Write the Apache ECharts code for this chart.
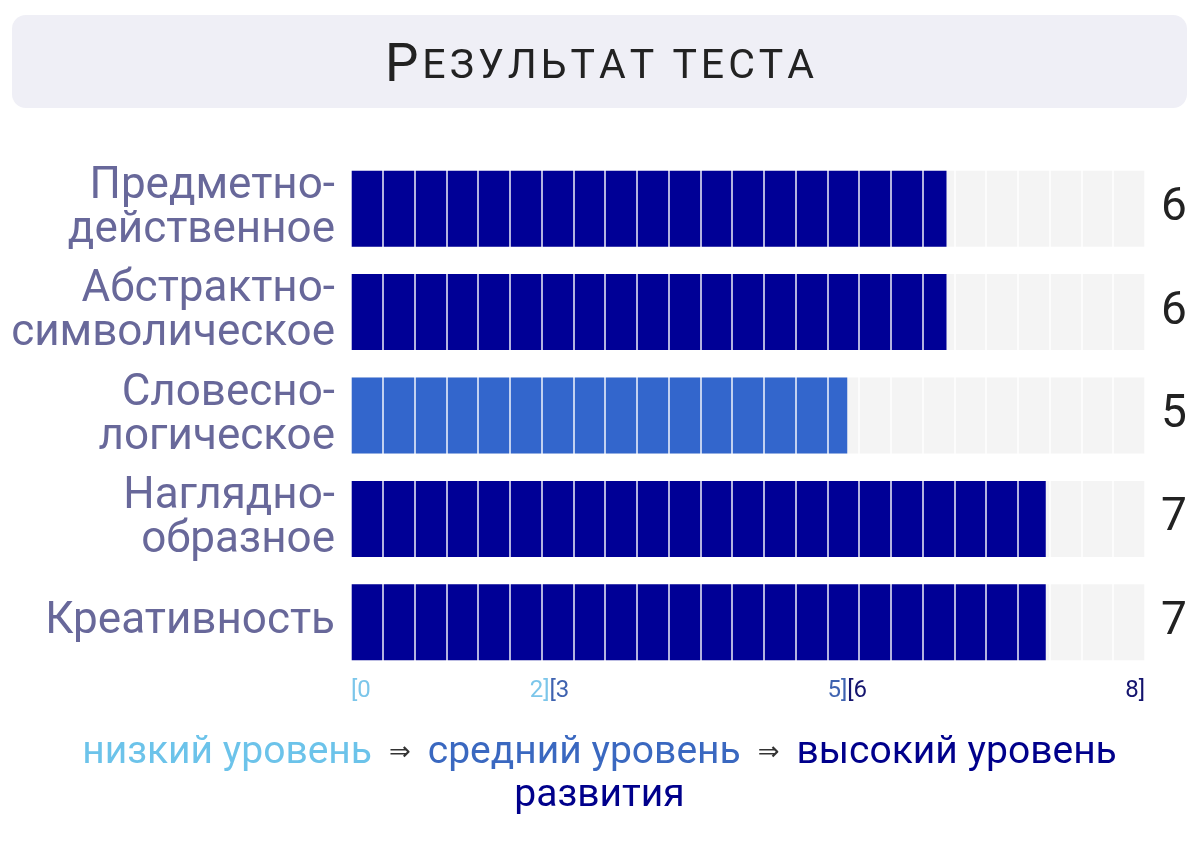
<!DOCTYPE html>
<html>
<head>
<meta charset="utf-8">
<script src="https://cdn.jsdelivr.net/npm/echarts@6/dist/echarts.min.js"></script>
<style>
html,body{margin:0;padding:0;background:#fff;}
#main{width:1199px;height:857px;}
</style>
</head>
<body>
<div id="main"></div>
<script>
var titleText = 'Результат теста';
var categories = ['Предметно-\nдейственное', 'Абстрактно-\nсимволическое', 'Словесно-\nлогическое', 'Наглядно-\nобразное', 'Креативность'];
var values = [6, 6, 5, 7, 7];
var scaleMax = 8;
var cellCount = 25;
var tickValues = [0, 2, 5, 8];
var tickLabels = ['{lo|[0}', '{lo|2]}{mid|[3}', '{mid|5]}{hi|[6}', '{hi|8]}'];
var levelBounds = [2, 5]; // [0..2] low, [3..5] mid, [6..8] high

var COL_LOW = '#6cc3ea', COL_MID = '#3366cc', COL_HI = '#000096';
function levelColor(v) {
  if (v <= levelBounds[0]) return COL_LOW;
  if (v <= levelBounds[1]) return COL_MID;
  return COL_HI;
}

// small-caps title with letter spacing, built as rich text tokens
var up = titleText.toUpperCase();
var titleRich = '{a|' + up.charAt(0) + '}';
for (var k = 1; k < up.length; k++) {
  var ch = up.charAt(k);
  titleRich += '{' + (k === up.length - 1 ? 'c' : 'b') + '|' + ch + '}';
}

var chart = echarts.init(document.getElementById('main'));
chart.setOption({
  backgroundColor: '#fff',
  animation: false,
  graphic: [
    {type: 'rect', left: 12, top: 15, shape: {width: 1175, height: 93, r: 14}, style: {fill: '#efeff6'}, z: 0},
    {type: 'text', left: 'center', top: 41, z: 1,
      style: {text: titleRich, rich: {
        a: {fontSize: 53, fontFamily: 'Roboto', fill: '#222', padding: [0, 4, 0, 0]},
        b: {fontSize: 41, fontFamily: 'Roboto', fill: '#222', padding: [0, 4, 0, 0]},
        c: {fontSize: 41, fontFamily: 'Roboto', fill: '#222'}
      }}},
    {type: 'text', left: 'center', top: 734, z: 1,
      style: {text: '{lo|низкий уровень}{sp| }{ar|⇒}{sp| }{mid|средний уровень}{sp| }{ar|⇒}{sp| }{hi|высокий уровень}', rich: {
        lo: {fontSize: 39, fontFamily: 'Roboto', fill: COL_LOW},
        mid: {fontSize: 39, fontFamily: 'Roboto', fill: '#3a68c0'},
        hi: {fontSize: 39, fontFamily: 'Roboto', fill: '#00008b'},
        sp: {fontSize: 39, fontFamily: 'Roboto', fill: '#fff', width: 17},
        ar: {fontSize: 26, fontFamily: 'DejaVu Sans', fill: '#333'}
      }}},
    {type: 'text', left: 'center', top: 777, z: 1,
      style: {text: 'развития', fontSize: 39, fontFamily: 'Roboto', fill: '#00008b'}}
  ],
  grid: {left: 351, right: 54, top: 157, bottom: 183, containLabel: false},
  xAxis: [
    {type: 'value', min: 0, max: scaleMax, position: 'bottom',
      axisLine: {show: false}, axisTick: {show: false}, splitLine: {show: false},
      axisLabel: {
        customValues: tickValues, margin: 5, alignMinLabel: 'left', alignMaxLabel: 'right',
        fontFamily: 'Roboto', fontSize: 24,
        formatter: function (v) { return tickLabels[tickValues.indexOf(v)]; },
        rich: {
          lo: {fontSize: 24, fontFamily: 'Roboto', color: '#7cc6ea'},
          mid: {fontSize: 24, fontFamily: 'Roboto', color: '#3f63b0'},
          hi: {fontSize: 24, fontFamily: 'Roboto', color: '#14146e'}
        }
      }},
    {type: 'value', min: 0, max: cellCount, interval: 1, position: 'top', z: 10,
      axisLine: {show: false}, axisTick: {show: false}, axisLabel: {show: false},
      splitLine: {show: true, lineStyle: {color: 'rgba(255,255,255,0.7)', width: 2}}}
  ],
  yAxis: [
    {type: 'category', data: categories, inverse: true, position: 'left',
      axisLine: {show: false}, axisTick: {show: false},
      axisLabel: {margin: 16, fontSize: 44, lineHeight: 44, fontFamily: 'Roboto', color: '#68689a', align: 'right',
        padding: [6, 0, 0, 0]}},
    {type: 'category', data: categories, inverse: true, position: 'right',
      axisLine: {show: false}, axisTick: {show: false},
      axisLabel: {margin: 16, fontSize: 46, fontFamily: 'Roboto', color: '#222', align: 'left',
        formatter: function (v, i) { return String(values[i]); }}}
  ],
  series: [{
    type: 'bar', xAxisIndex: 0, yAxisIndex: 0, barWidth: 76,
    showBackground: true, backgroundStyle: {color: '#f4f4f4'},
    data: values.map(function (v) { return {value: v, itemStyle: {color: levelColor(v)}}; })
  }]
});
</script>
</body>
</html>
